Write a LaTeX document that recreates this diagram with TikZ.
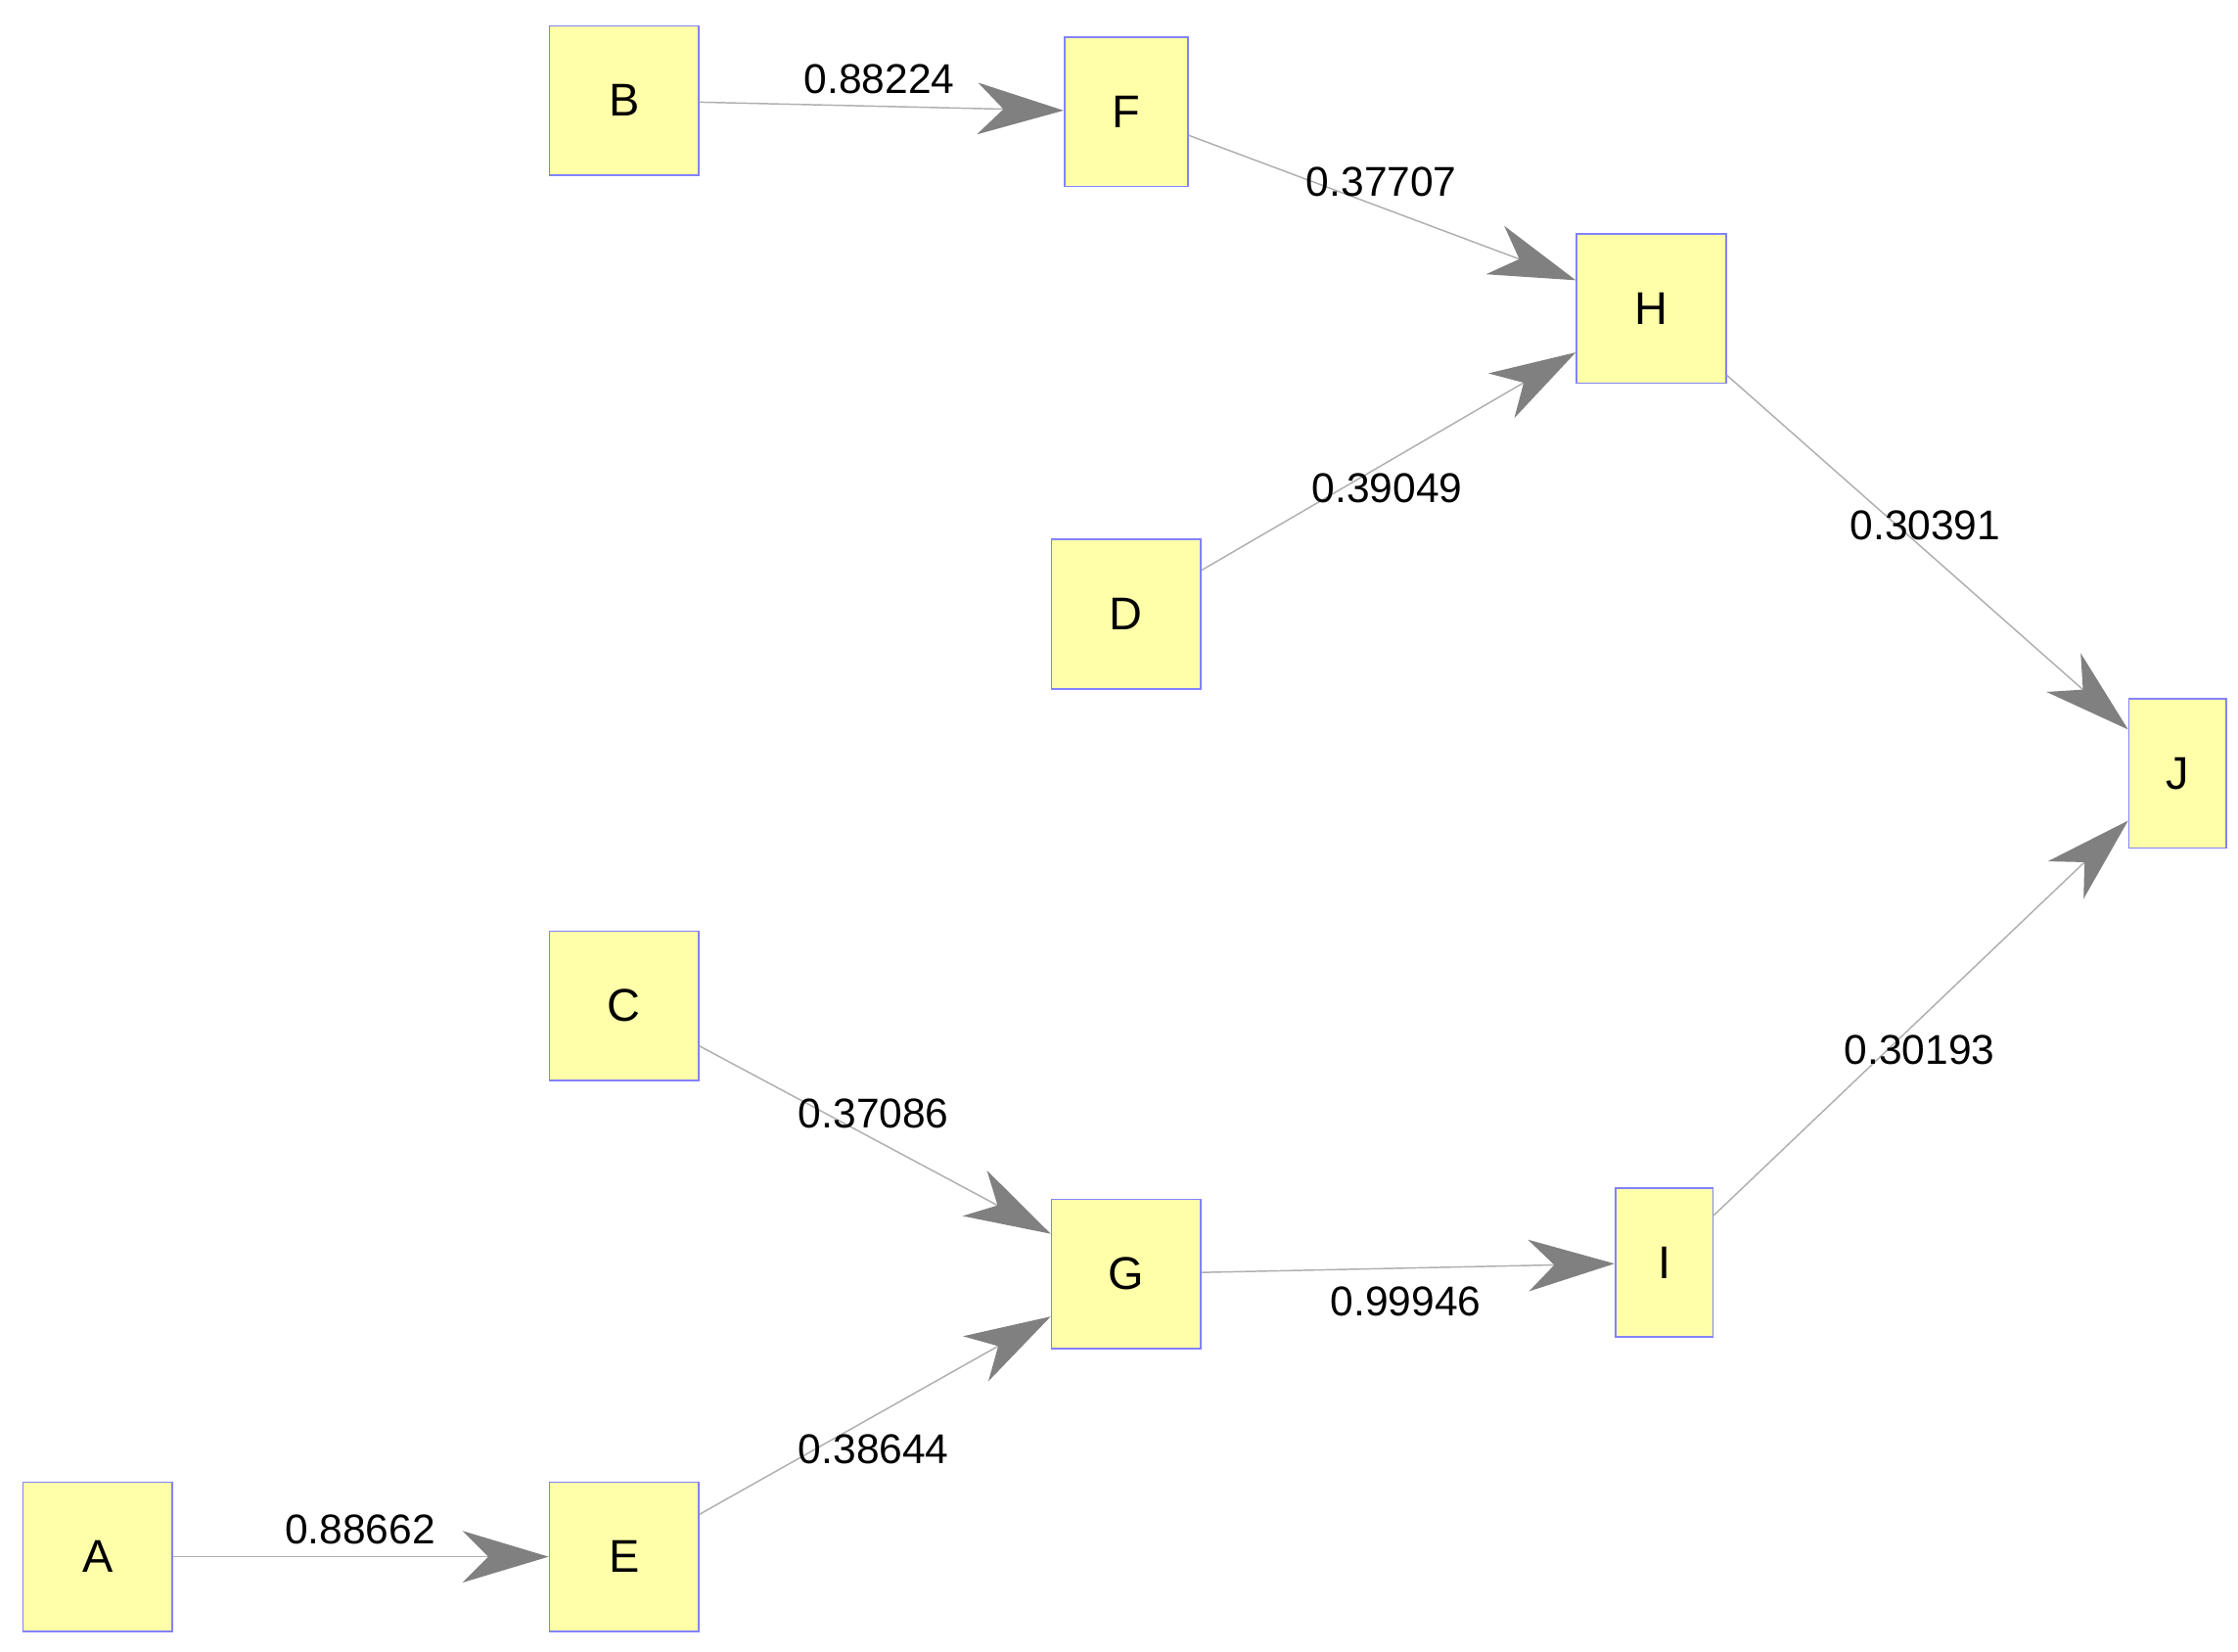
\documentclass[tikz,border=0pt]{standalone}
\usepackage{fontspec}
\setmainfont{Liberation Sans}
\usetikzlibrary{arrows.meta}
\definecolor{nfill}{RGB}{255,255,170}
\definecolor{ndraw}{RGB}{130,130,255}
\definecolor{edg}{RGB}{175,175,175}
\definecolor{tip}{RGB}{128,128,128}
\begin{document}
\begin{tikzpicture}[x=0.5pt,y=-0.5pt,
  box/.style={draw=ndraw,fill=nfill,line width=0.6pt,minimum width=52pt,minimum height=52pt,inner sep=0pt,font=\fontsize{16}{18}\selectfont},
  narrow/.style={box,minimum width=34pt},
  mid/.style={box,minimum width=43pt},
  edge/.style={draw=edg,line width=0.5pt,-{Stealth[length=30pt,width=18pt,inset=9pt,color=tip,fill=tip]}},
  lab/.style={font=\fontsize{14.5}{16}\selectfont,inner sep=0pt}]
\useasboundingbox (0,0) rectangle (1560,1151);
\node[box] (B) at (435,70) {B};
\node[mid] (F) at (785,78) {F};
\node[box] (H) at (1151,215) {H};
\node[box] (D) at (785,428) {D};
\node[narrow] (J) at (1518,539) {J};
\node[box] (C) at (435,701) {C};
\node[box] (G) at (785,888) {G};
\node[narrow] (I) at (1160,880) {I};
\node[box] (A) at (68,1085) {A};
\node[box] (E) at (435,1085) {E};
\draw[edge] (B) -- (F);
\draw[edge] (F) -- (H);
\draw[edge] (D) -- (H);
\draw[edge] (H) -- (J);
\draw[edge] (I) -- (J);
\draw[edge] (C) -- (G);
\draw[edge] (E) -- (G);
\draw[edge] (G) -- (I);
\draw[edge] (A) -- (E);
\node[lab] (l1) at (613,55) {0.88224};
\node[lab] (l2) at (963,127) {0.37707};
\node[lab] (l3) at (967,340) {0.39049};
\node[lab] (l4) at (1342,366) {0.30391};
\node[lab] (l5) at (1338,732) {0.30193};
\node[lab] (l6) at (609,776) {0.37086};
\node[lab] (l7) at (980,907) {0.99946};
\node[lab] (l8) at (609,1010) {0.38644};
\node[lab] (l9) at (251,1066) {0.88662};
\end{tikzpicture}
\end{document}
